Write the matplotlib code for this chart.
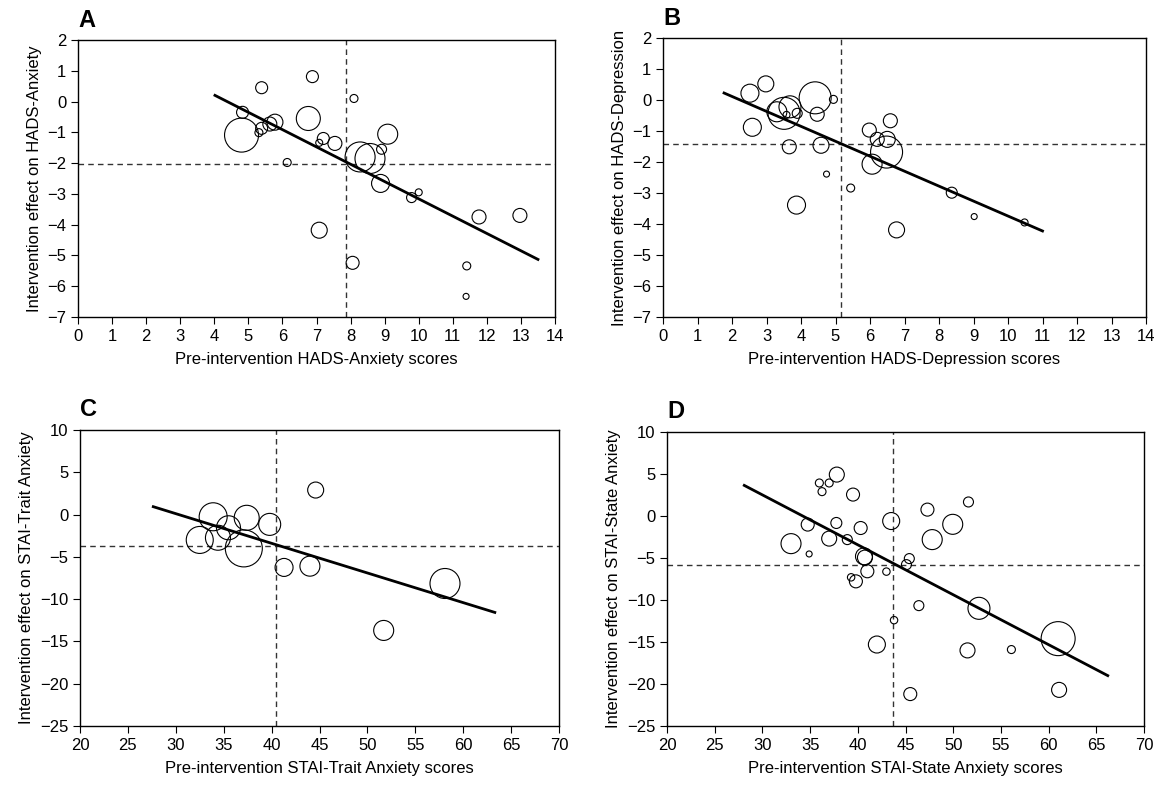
import numpy as np
import matplotlib
matplotlib.use("Agg")
import matplotlib.pyplot as plt

plt.rcParams['font.family'] = ['Liberation Sans', 'DejaVu Sans']

# Panel A - HADS anxiety
a_x = [6.88, 5.39, 8.10, 4.83, 4.80, 5.31, 5.39, 5.63, 5.78, 6.76, 7.20, 7.08, 7.54, 6.14,
       9.09, 8.91, 8.28, 8.57, 8.88, 9.79, 10.0, 7.08, 11.77, 8.06, 11.41, 11.39, 12.97]
a_y = [0.81, 0.45, 0.10, -0.35, -1.09, -1.01, -0.87, -0.73, -0.67, -0.55, -1.20, -1.34, -1.36, -1.98,
       -1.06, -1.55, -1.80, -1.85, -2.66, -3.12, -2.95, -4.18, -3.75, -5.24, -5.34, -6.33, -3.70]
a_w = [6, 6, 4, 6, 17, 4, 6, 7, 8, 12, 6, 3.5, 7, 4,
       10, 5, 15, 15, 9, 5, 3.5, 8, 7, 6.5, 4, 3, 7]
a_fit = [4.02, 13.5]
a_cut = (7.86, -2.02)

# Panel B - HADS depression
b_x = [2.98, 2.52, 4.41, 4.94, 3.30, 3.51, 3.68, 3.58, 3.89, 4.47, 2.59, 3.66, 4.58, 4.74,
       5.44, 3.87, 5.98, 6.59, 6.21, 6.50, 6.48, 6.06, 6.77, 8.37, 9.02, 10.48]
b_y = [0.52, 0.22, 0.07, 0.02, -0.38, -0.43, -0.22, -0.48, -0.43, -0.46, -0.88, -1.51, -1.46, -2.39,
       -2.84, -3.39, -0.97, -0.67, -1.27, -1.27, -1.68, -2.07, -4.19, -2.99, -3.76, -3.95]
b_w = [8, 9, 16, 4, 10, 16, 11, 3.5, 5, 7, 9, 7, 8, 3, 4, 9, 7, 7, 7, 8, 16, 10, 8, 5.5, 3, 3.5]
b_fit = [1.77, 11.0]
b_cut = (5.15, -1.43)

# Panel C - STAI trait
c_x = [44.6, 33.9, 37.4, 39.8, 35.5, 32.5, 34.4, 37.1, 41.3, 44.0, 58.1, 51.7]
c_y = [2.9, -0.26, -0.38, -1.16, -1.56, -3.0, -2.74, -4.0, -6.25, -6.1, -8.15, -13.7]
c_w = [8, 14, 12.5, 11, 12, 13.5, 12.5, 18.5, 9, 10, 15, 10]
c_fit = [27.65, 63.3]
c_cut = (40.5, -3.7)

# Panel D - STAI state
d_x = [37.8, 35.97, 37.0, 36.25, 39.5, 51.6, 47.3, 43.5, 49.95, 34.75, 37.75, 40.3, 47.8, 33.0,
       37.0, 38.9, 34.9, 40.65, 40.75, 45.4, 45.1, 41.0, 43.0, 39.3, 39.8, 46.4, 52.7, 43.8,
       42.0, 51.5, 56.1, 61.0, 61.1, 45.5]
d_y = [4.93, 3.93, 3.93, 2.9, 2.55, 1.67, 0.76, -0.6, -0.99, -1.02, -0.83, -1.43, -2.81, -3.29,
       -2.69, -2.81, -4.52, -4.80, -4.95, -5.07, -5.79, -6.58, -6.62, -7.3, -7.78, -10.67, -10.99, -12.4,
       -15.3, -16.0, -15.9, -14.6, -20.7, -21.2]
d_w = [7.5, 4, 4, 4, 6.5, 5, 6.5, 8.5, 10, 6.5, 5.5, 6.5, 10, 10,
       7.5, 5, 3, 8.5, 7.5, 5, 5, 6.5, 3.7, 3.7, 6.5, 5, 11, 3.7,
       8.5, 7.5, 4, 17, 7.5, 6.5]
d_fit = [28.1, 66.2]
d_cut = (43.65, -5.79)

panels = [
    ("A", a_x, a_y, a_w, a_fit, a_cut, (0, 14, 1), (-7, 2, 1),
     "Pre-intervention HADS-Anxiety scores", "Intervention effect on HADS-Anxiety",
     [78, 40, 555, 317]),
    ("B", b_x, b_y, b_w, b_fit, b_cut, (0, 14, 1), (-7, 2, 1),
     "Pre-intervention HADS-Depression scores", "Intervention effect on HADS-Depression",
     [663, 38, 1146, 317]),
    ("C", c_x, c_y, c_w, c_fit, c_cut, (20, 70, 5), (-25, 10, 5),
     "Pre-intervention STAI-Trait Anxiety scores", "Intervention effect on STAI-Trait Anxiety",
     [80, 430, 559, 726]),
    ("D", d_x, d_y, d_w, d_fit, d_cut, (20, 70, 5), (-25, 10, 5),
     "Pre-intervention STAI-State Anxiety scores", "Intervention effect on STAI-State Anxiety",
     [667, 432, 1144, 726]),
]

W, H = 1158, 788
fig = plt.figure(figsize=(W / 100, H / 100), dpi=100)

for letter, x, y, w, fit, cut, xr, yr, xl, yl, box in panels:
    l, t, r, b = box
    ax = fig.add_axes([l / W, 1 - b / H, (r - l) / W, (b - t) / H])
    x = np.array(x)
    y = np.array(y)
    # least squares line drawn over the range shown in the paper
    k, c0 = np.polyfit(x, y, 1)
    fx = np.array(fit)
    sizes = (np.array(w) * 2 * 0.72) ** 2
    ax.scatter(x, y, s=sizes, facecolors='none', edgecolors='black', linewidths=0.8, zorder=3)
    ax.axvline(cut[0], color='#333333', lw=1, ls=(0, (4, 3)), zorder=1)
    ax.axhline(cut[1], color='#333333', lw=1, ls=(0, (4, 3)), zorder=1)
    ax.plot(fx, k * fx + c0, color='black', lw=2, zorder=4)
    ax.set_xlim(xr[0], xr[1])
    ax.set_ylim(yr[0], yr[1])
    ax.set_xticks(np.arange(xr[0], xr[1] + 0.1, xr[2]))
    ax.set_yticks(np.arange(yr[0], yr[1] + 0.1, yr[2]))
    ax.tick_params(direction='out', length=5, labelsize=12, top=False, right=False)
    ax.set_xlabel(xl, fontsize=12, labelpad=6)
    ax.set_ylabel(yl, fontsize=12, labelpad=4)
    for s in ax.spines.values():
        s.set_linewidth(1)
    ax.text(0.0, 1.03, letter, transform=ax.transAxes, fontsize=17,
            fontweight='bold', va='bottom', ha='left')

fig.savefig("out.png", dpi=100)
